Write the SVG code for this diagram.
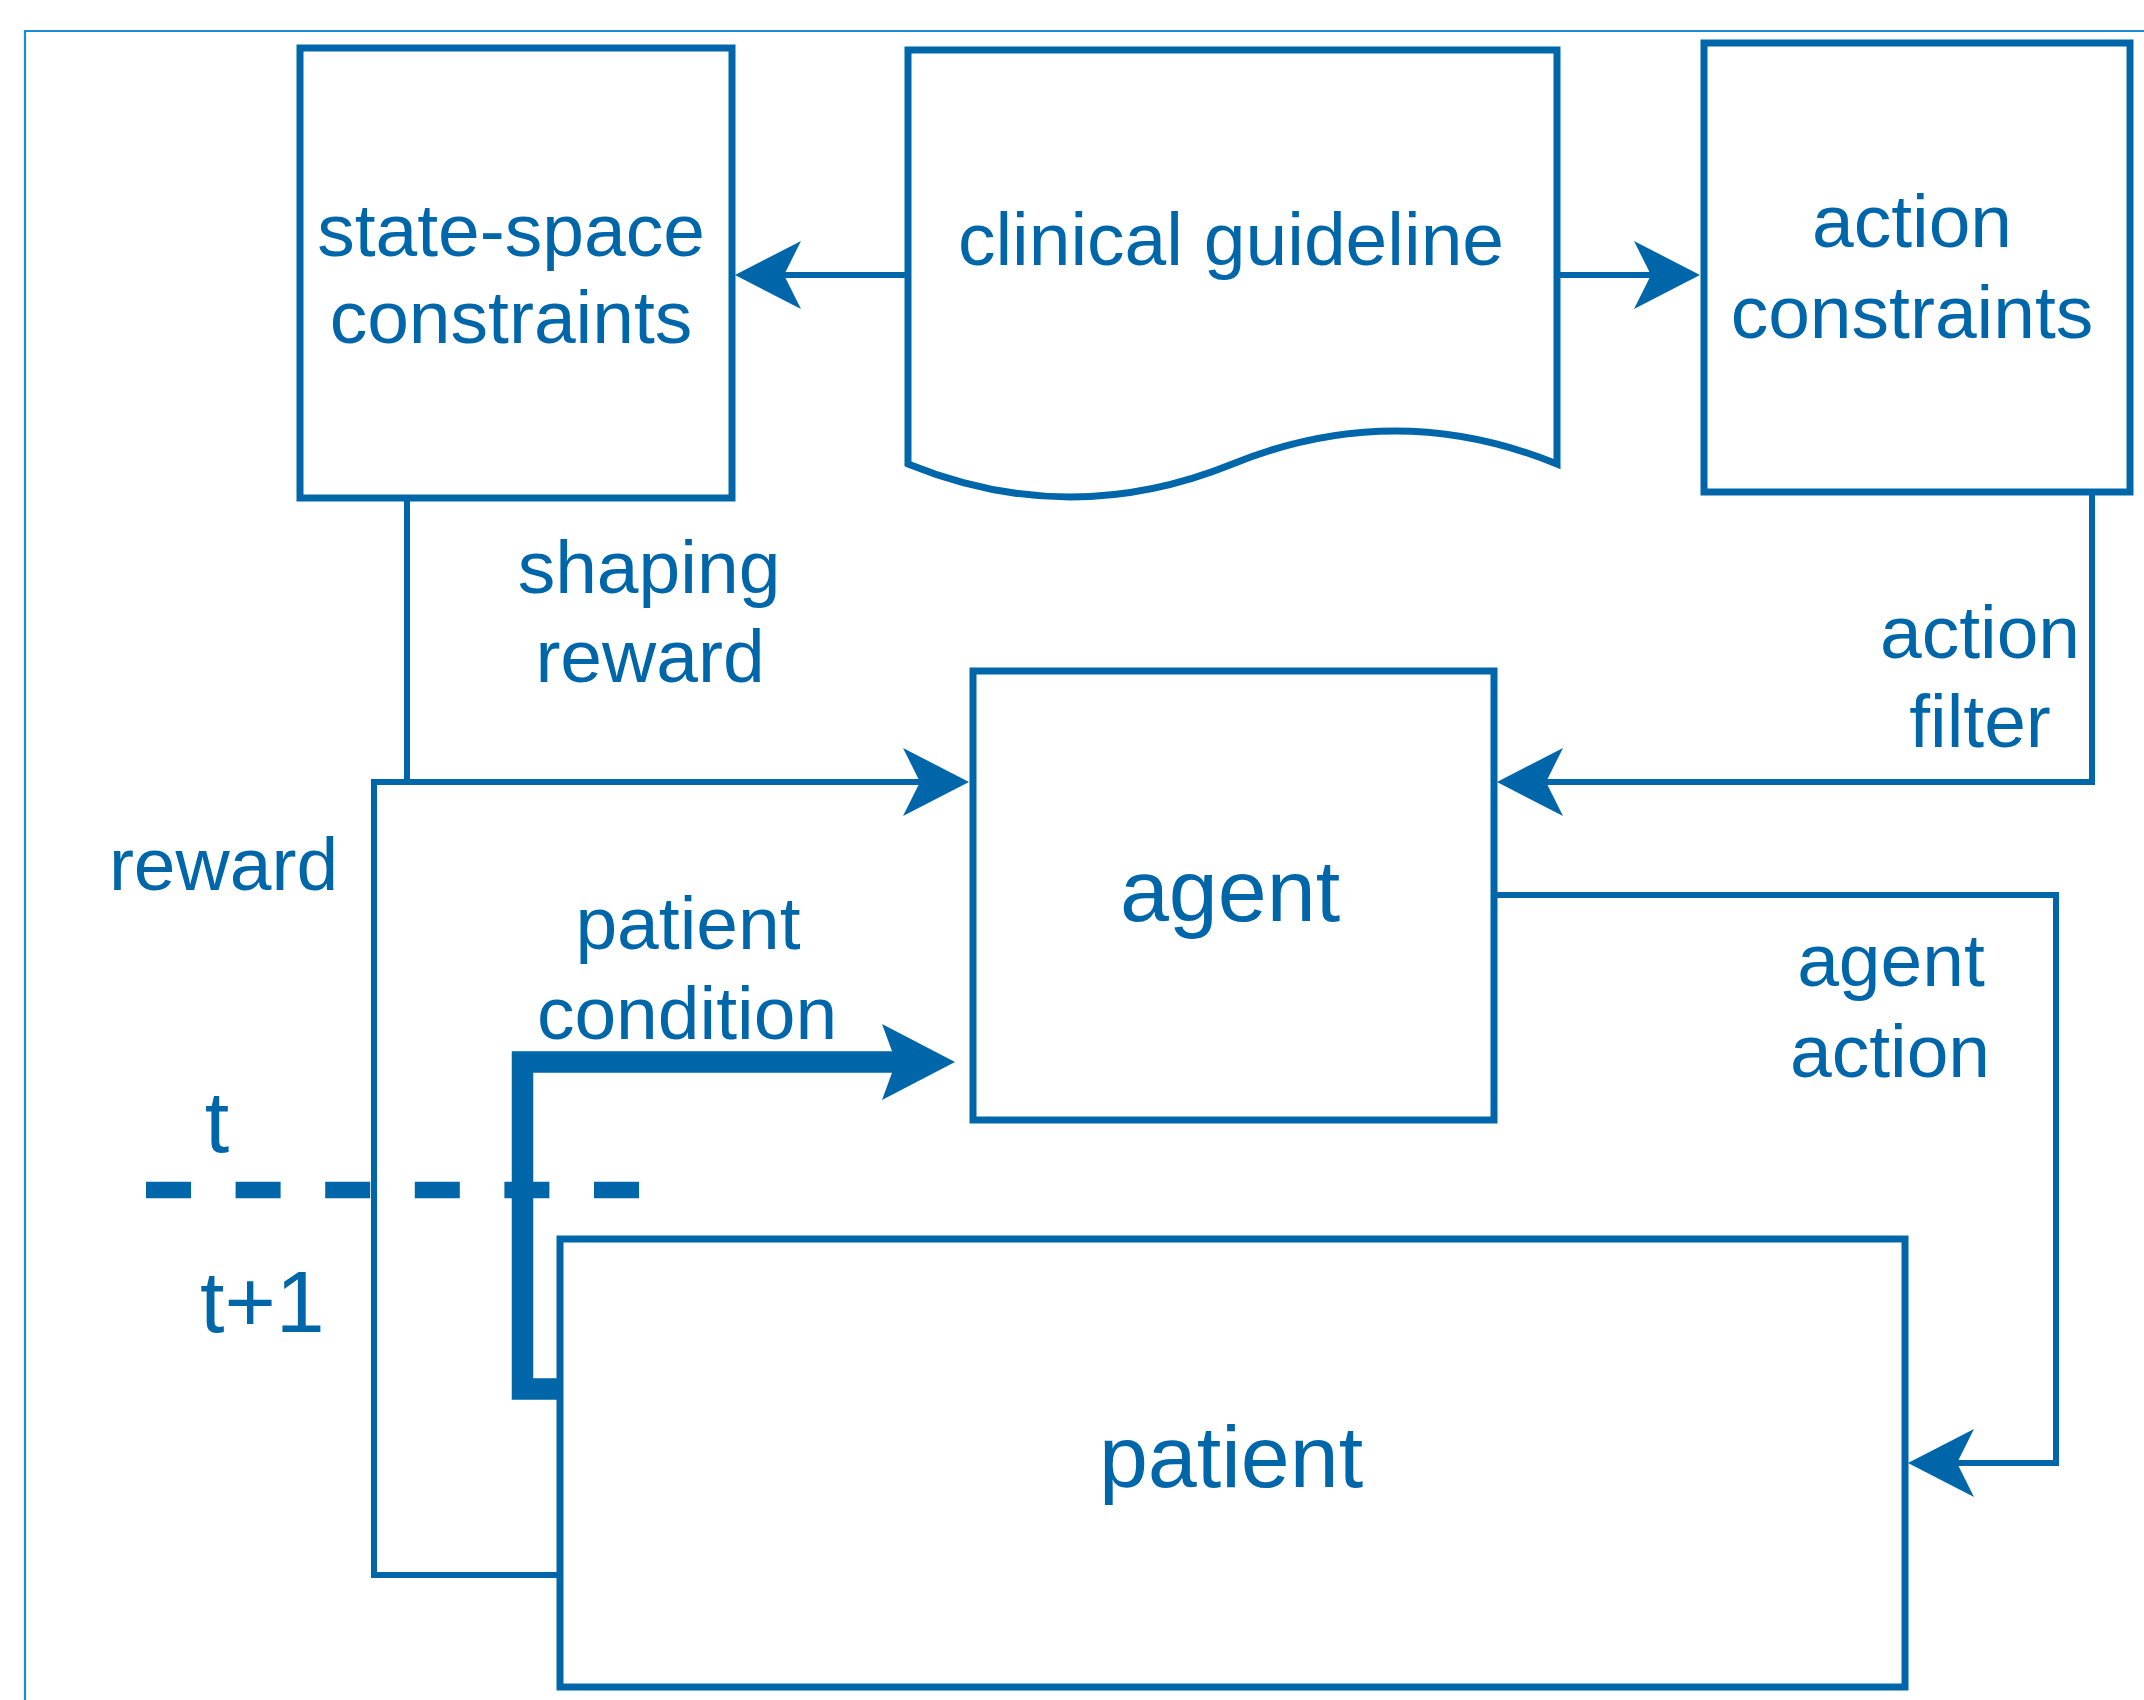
<svg xmlns="http://www.w3.org/2000/svg" width="2144" height="1700" viewBox="0 0 2144 1700">
  <style>
    .box { fill: #ffffff; stroke: #0066AA; stroke-width: 7; }
    .edge { fill: none; stroke: #0066AA; stroke-width: 6; }
    .thick { fill: none; stroke: #0066AA; stroke-width: 21.5; }
    .lbl { fill: #0066AA; font-family: "Liberation Sans", Arial, sans-serif; font-size: 75px; text-anchor: middle; }
    .big { font-size: 88px; }
  </style>
  <defs>
    <marker id="arr" markerUnits="userSpaceOnUse" viewBox="0 -34 66 68" markerWidth="66" markerHeight="68" refX="17" refY="0" orient="auto">
      <path d="M66,0 L0,-34 L17,0 L0,34 Z" fill="#0066AA"/>
    </marker>
    <marker id="arrThick" markerUnits="userSpaceOnUse" viewBox="0 -38 73 76" markerWidth="73" markerHeight="76" refX="14" refY="0" orient="auto">
      <path d="M73,0 L0,-38 L14,0 L0,38 Z" fill="#0066AA"/>
    </marker>
  </defs>

  <rect width="2144" height="1700" fill="#ffffff"/>
  <g id="frame">
    <path d="M25,1700 L25,31 L2144,31" fill="none" stroke="#1A8CD8" stroke-width="2.2"/>
  </g>

  <g id="connectors">
    <path class="edge" d="M908,275 L784,275" marker-end="url(#arr)"/>
    <path class="edge" d="M1557,275 L1651,275" marker-end="url(#arr)"/>
    <path class="edge" d="M407,498 L407,782"/>
    <path class="edge" d="M560,1575 L374,1575 L374,782 L920,782" marker-end="url(#arr)"/>
    <path class="edge" d="M2092,492 L2092,782 L1546,782" marker-end="url(#arr)"/>
    <path class="edge" d="M1494,895 L2056,895 L2056,1463 L1957,1463" marker-end="url(#arr)"/>
    <path class="thick" d="M560,1389 L522.5,1389 L522.5,1062 L896,1062" marker-end="url(#arrThick)"/>
  </g>

  <g id="timeline">
    <path d="M146,1190 L640,1190" fill="none" stroke="#0066AA" stroke-width="16.5" stroke-dasharray="45 44.6"/>
    <text class="lbl big" x="217" y="1152">t</text>
    <text class="lbl big" x="200" y="1332" style="text-anchor:start">t+1</text>
  </g>

  <g id="state-space-constraints">
    <rect class="box" x="300" y="48" width="432" height="450"/>
    <text class="lbl" x="511" y="255.5">state-space</text>
    <text class="lbl" x="511" y="343">constraints</text>
  </g>

  <g id="clinical-guideline">
    <path class="box" d="M908,50 L1557,50 L1557,464 Q1395,398 1232.5,464 T908,464 Z"/>
    <text class="lbl" x="1231" y="264.5">clinical guideline</text>
  </g>

  <g id="action-constraints">
    <rect class="box" x="1704" y="43" width="426" height="449"/>
    <text class="lbl" x="1912" y="247">action</text>
    <text class="lbl" x="1912" y="337.5">constraints</text>
  </g>

  <g id="agent">
    <rect class="box" x="973" y="671" width="521" height="449"/>
    <text class="lbl big" x="1230" y="921">agent</text>
  </g>

  <g id="patient">
    <rect class="box" x="560" y="1239" width="1345" height="448"/>
    <text class="lbl big" x="1231" y="1487">patient</text>
  </g>

  <g id="labels">
    <text class="lbl" x="649" y="593">shaping</text>
    <text class="lbl" x="650" y="682">reward</text>
    <text class="lbl" x="223.5" y="889.7">reward</text>
    <text class="lbl" x="688" y="948.7">patient</text>
    <text class="lbl" x="687" y="1038.8">condition</text>
    <text class="lbl" x="1980" y="657.5">action</text>
    <text class="lbl" x="1980" y="747">filter</text>
    <text class="lbl" x="1891" y="985.8">agent</text>
    <text class="lbl" x="1890" y="1077">action</text>
  </g>
</svg>
